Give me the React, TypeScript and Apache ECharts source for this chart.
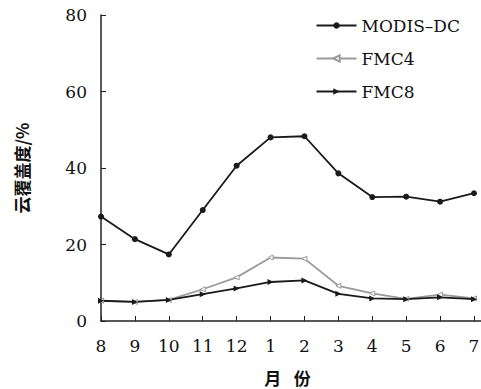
import React, { useEffect, useRef } from "react";
import * as echarts from "echarts";

const months = ["8", "9", "10", "11", "12", "1", "2", "3", "4", "5", "6", "7"];
const modisDC = [27.3, 21.4, 17.4, 29.0, 40.6, 48.0, 48.3, 38.6, 32.4, 32.5, 31.2, 33.4];
const fmc4 = [5.3, 5.0, 5.5, 8.3, 11.4, 16.6, 16.3, 9.2, 7.2, 5.8, 6.9, 5.9];
const fmc8 = [5.3, 5.0, 5.5, 7.0, 8.5, 10.2, 10.6, 7.1, 5.9, 5.7, 6.2, 5.7];
const yTicks = [0, 20, 40, 60, 80];

const FONT = "DejaVu Serif";
const CJK = "Noto Sans CJK SC";

export default function App() {
  const ref = useRef<HTMLDivElement>(null);
  useEffect(() => {
    if (!ref.current) return;
    const chart = echarts.init(ref.current, null, { renderer: "svg" });
    chart.setOption({
      animation: false,
      backgroundColor: "#ffffff",
      grid: { left: 101, right: 7, top: 15, bottom: 68, containLabel: false, outerBoundsMode: "none" },
      legend: {
        right: 16,
        top: 12,
        orient: "vertical",
        itemWidth: 40,
        itemHeight: 8,
        itemGap: 16,
        textStyle: { fontFamily: FONT, fontSize: 17, color: "#111" },
        data: ["MODIS–DC", "FMC4", "FMC8"],
      },
      xAxis: {
        type: "category",
        data: months,
        boundaryGap: false,
        name: "月\u2002 份",
        nameLocation: "middle",
        nameGap: 47,
        nameTextStyle: { fontFamily: CJK, fontSize: 17, fontWeight: "bold", color: "#111", lineHeight: 18 },
        axisLine: { lineStyle: { color: "#222", width: 1.5 } },
        axisTick: { inside: true, length: 5, alignWithLabel: true, lineStyle: { color: "#222" } },
        axisLabel: { fontFamily: FONT, fontSize: 17, color: "#111", margin: 16, interval: 0 },
        splitLine: { show: false },
      },
      yAxis: {
        type: "value",
        min: 0,
        max: 80,
        interval: 20,
        name: "云覆盖度/%",
        nameLocation: "middle",
        nameGap: 71,
        nameRotate: 90,
        nameTextStyle: { fontFamily: CJK, fontSize: 17, fontWeight: "bold", color: "#111" },
        axisLine: { show: true, lineStyle: { color: "#222", width: 1.5 } },
        axisTick: { show: true, inside: true, length: 5, lineStyle: { color: "#222" } },
        axisLabel: {
          fontFamily: FONT,
          fontSize: 17,
          color: "#111",
          margin: 14,
          formatter: (v: number) => (yTicks.includes(v) ? String(v) : ""),
        },
        splitLine: { show: false },
      },
      graphic: [
        {
          type: "line",
          shape: { x1: 474, y1: 321, x2: 481, y2: 321 },
          style: { stroke: "#222", lineWidth: 1.5 },
        },
      ],
      series: [
        {
          name: "MODIS–DC",
          type: "line",
          data: modisDC,
          symbol: "circle",
          symbolSize: 6,
          lineStyle: { color: "#1a1a1a", width: 1.8 },
          itemStyle: { color: "#1a1a1a" },
        },
        {
          name: "FMC4",
          type: "line",
          data: fmc4,
          symbol: "triangle",
          symbolSize: 5,
          symbolRotate: 90,
          lineStyle: { color: "#9a9a9a", width: 1.8 },
          itemStyle: { color: "#ffffff", borderColor: "#9a9a9a", borderWidth: 1 },
        },
        {
          name: "FMC8",
          type: "line",
          data: fmc8,
          symbol: "triangle",
          symbolSize: 6,
          symbolRotate: -90,
          lineStyle: { color: "#1a1a1a", width: 1.8 },
          itemStyle: { color: "#1a1a1a" },
        },
      ],
    });
    return () => chart.dispose();
  }, []);
  return <div ref={ref} style={{ width: 481, height: 389, position: "absolute", left: 0, top: 0 }} />;
}
